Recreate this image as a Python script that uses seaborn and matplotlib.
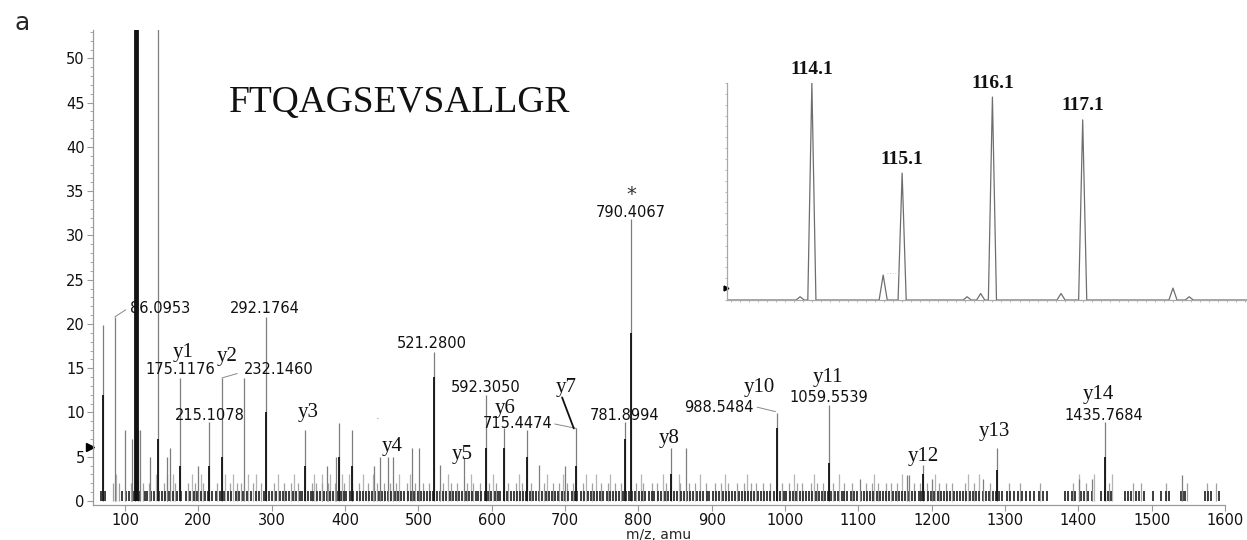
import numpy as np
import pandas as pd
import matplotlib
matplotlib.use("Agg")
import matplotlib.pyplot as plt
from matplotlib.ticker import MultipleLocator
import seaborn as sns

# ---- main MS/MS spectrum (m/z, relative intensity) ----
peak_mz = [70.07, 86.0953, 100.1, 110.1, 113.1, 118.1, 120.1, 134.1, 145.1, 157.1, 161.1,
           175.1176, 200.1, 215.1078, 232.1460, 262.1, 292.1764, 345.2, 375.2, 388.2,
           392.2, 410.2, 440.2, 448.2, 458.3, 465.2, 491.2, 501.2, 521.2800, 529.3,
           562.3, 592.3050, 616.4, 648.3, 664.3, 700.3, 715.4474, 781.8994, 790.4067,
           844.5, 864.4, 988.5484, 1059.5539, 1102.5, 1166.6, 1169.6, 1187.6, 1200.6,
           1269.6, 1288.7, 1400.7, 1418.7, 1435.7684, 1541.8]
peak_h = [19.9, 20.8, 8.0, 7.0, 8.0, 8.0, 8.0, 5.0, 60.0, 5.0, 6.0,
          13.9, 4.0, 8.9, 13.9, 13.9, 20.8, 8.0, 4.0, 5.0,
          8.8, 8.0, 4.0, 5.0, 5.0, 5.0, 6.0, 6.0, 16.8, 4.1,
          4.9, 12.0, 8.2, 8.0, 4.1, 4.0, 8.2, 8.9, 31.8,
          6.0, 6.0, 9.9, 10.9, 2.5, 2.9, 2.9, 4.1, 2.5,
          2.5, 6.0, 2.5, 2.5, 8.9, 2.9]

# darker lower parts of the peaks (reporter ions 114-117 run off scale)
core_mz = [70.07, 114.1, 115.1, 116.1, 117.1, 145.1, 175.1, 215.1, 232.1, 292.2, 345.2,
           392.2, 410.2, 521.28, 592.3, 616.4, 648.3, 715.4, 781.9, 790.4, 844.5,
           988.5, 1059.6, 1187.6, 1288.7, 1435.8]
core_h = [12.0, 100.0, 70.0, 95.0, 85.0, 7.0, 4.0, 4.0, 5.0, 10.0, 4.0,
          5.0, 4.0, 14.0, 6.0, 6.0, 5.0, 4.0, 7.0, 19.0, 3.0,
          8.2, 4.3, 3.0, 3.5, 5.0]

# baseline noise, grouped by the level it reaches
noise_lvl1 = [67, 73, 96, 102, 106, 112, 117, 121, 127, 130, 136, 140, 146, 151, 155, 160,
              166, 171, 177, 183, 188, 194, 198, 204, 209, 213, 219, 224, 229, 235, 240,
              245, 251, 256, 261, 267, 272, 278, 283, 289, 296, 301, 306, 311, 315, 320,
              324, 329, 333, 338, 342, 349, 353, 357, 362, 366, 371, 375, 380, 384, 389,
              394, 398, 402, 407, 411, 416, 420, 424, 428, 433, 437, 441, 446, 450, 455,
              459, 463, 468, 472, 477, 481, 486, 490, 494, 499, 503, 508, 512, 516, 520,
              525, 530, 534, 538, 543, 547, 551, 556, 560, 565, 569, 573, 578, 582, 586,
              591, 595, 599, 604, 608, 612, 617, 621, 626, 630, 634, 639, 643, 647, 652,
              656, 661, 665, 669, 674, 678, 682, 687, 691, 696, 700, 704, 709, 713, 717,
              722, 726, 731, 735, 739, 744, 748, 752, 757, 761, 766, 770, 774, 779, 783,
              787, 792, 796, 801, 805, 809, 814, 818, 822, 827, 831, 836, 840, 845, 849,
              853, 858, 862, 867, 871, 875, 880, 884, 888, 893, 897, 902, 906, 910, 915,
              919, 923, 928, 932, 937, 941, 945, 950, 954, 958, 963, 967, 972, 976, 980,
              985, 989, 993, 998, 1002, 1007, 1011, 1015, 1020, 1024, 1028, 1033, 1037,
              1042, 1046, 1050, 1055, 1059, 1063, 1068, 1072, 1077, 1081, 1085, 1090,
              1094, 1098, 1103, 1107, 1112, 1116, 1120, 1125, 1129, 1133, 1138, 1142,
              1147, 1151, 1155, 1160, 1164, 1168, 1173, 1177, 1182, 1186, 1190, 1195,
              1199, 1203, 1208, 1212, 1217, 1221, 1225, 1230, 1234, 1238, 1243, 1247,
              1252, 1256, 1260, 1265, 1270, 1274, 1278, 1283, 1287, 1292, 1296, 1302,
              1307, 1312, 1318, 1323, 1329, 1334, 1340, 1346, 1352, 1357, 1382, 1386,
              1391, 1395, 1403, 1408, 1413, 1419, 1431, 1436, 1440, 1445, 1463, 1467,
              1472, 1478, 1483, 1489, 1502, 1513, 1519, 1524, 1540, 1542, 1545, 1572,
              1577, 1581, 1592]
noise_lvl2 = [83, 92, 108, 124, 133, 153, 168, 186, 196, 207, 226, 243, 253, 258, 275, 285,
              303, 317, 326, 336, 355, 361, 369, 377, 386, 398, 409, 419, 431, 444, 453,
              462, 470, 484, 496, 506, 514, 533, 545, 553, 567, 575, 584, 596, 606, 622,
              633, 641, 654, 671, 683, 692, 703, 711, 724, 737, 749, 758, 768, 776, 797,
              807, 818, 826, 838, 857, 869, 877, 892, 904, 913, 922, 935, 944, 953, 961,
              970, 979, 996, 1005, 1016, 1023, 1035, 1044, 1052, 1066, 1081, 1091, 1110,
              1118, 1127, 1137, 1145, 1153, 1176, 1184, 1194, 1210, 1219, 1228, 1246,
              1257, 1280, 1305, 1321, 1348, 1393, 1410, 1442, 1475, 1486, 1519, 1548,
              1575, 1588]
noise_lvl3 = [88, 113, 142, 157, 166, 191, 203, 236, 247, 268, 279, 308, 331, 358, 368, 380,
              396, 405, 425, 438, 473, 488, 541, 572, 602, 637, 676, 697, 728, 742, 762,
              803, 834, 855, 884, 918, 948, 1012, 1040, 1073, 1121, 1160, 1205, 1250,
              1264, 1401, 1421, 1446]

# ---- inset: iTRAQ reporter region ----
inset_mz = [113.97, 114.10, 114.89, 115.10, 115.82, 115.97, 116.10, 116.86, 117.10, 118.10, 118.28]
inset_h = [1.5, 100.0, 11.5, 58.5, 1.5, 3.0, 93.5, 3.0, 83.0, 5.5, 1.5]
inset_labels = ["114.1", "115.1", "116.1", "117.1"]

peptide = "FTQAGSEVSALLGR"

# annotations: text, x (m/z), y (intensity), font kind, alignment
annotations = [
    ("86.0953", 107, 21.8, "num", "left"),
    ("292.1764", 291, 21.8, "num", "center"),
    ("y1", 179, 16.8, "ion", "center"),
    ("175.1176", 175, 14.8, "num", "center"),
    ("y2", 239, 16.3, "ion", "center"),
    ("232.1460", 310, 14.8, "num", "center"),
    ("215.1078", 216, 9.7, "num", "center"),
    ("y3", 350, 10.0, "ion", "center"),
    ("y4", 465, 6.2, "ion", "center"),
    ("521.2800", 519, 17.8, "num", "center"),
    ("y5", 560, 5.2, "ion", "center"),
    ("592.3050", 592, 12.8, "num", "center"),
    ("y6", 618, 10.5, "ion", "center"),
    ("715.4474", 636, 8.8, "num", "center"),
    ("y7", 701, 12.8, "ion", "center"),
    ("781.8994", 781, 9.7, "num", "center"),
    ("790.4067", 789, 32.6, "num", "center"),
    ("y8", 842, 7.1, "ion", "center"),
    ("y10", 965, 12.8, "ion", "center"),
    ("988.5484", 910, 10.6, "num", "center"),
    ("y11", 1059, 14.0, "ion", "center"),
    ("1059.5539", 1060, 11.7, "num", "center"),
    ("y12", 1188, 5.0, "ion", "center"),
    ("y13", 1286, 7.8, "ion", "center"),
    ("y14", 1427, 12.0, "ion", "center"),
    ("1435.7684", 1435, 9.7, "num", "center"),
]
# leader lines: (x0, y0, x1, y1)
leaders = [(86.1, 20.8, 101, 21.6), (232.1, 13.9, 253, 14.4), (686, 8.7, 715.4, 8.2),
           (962, 10.6, 987, 10.1)]

sns.set_theme(style="ticks")
plt.rcParams["font.family"] = ["DejaVu Sans"]
AX_GREY = "#9a9a9a"

fig = plt.figure(figsize=(12.47, 5.40), dpi=100)
ax = fig.add_axes([0.0746, 0.0648, 0.9078, 0.8796])

ax.vlines(noise_lvl3, 0, 3.0, color="#b5b5b5", lw=0.9)
ax.vlines(noise_lvl2, 0, 2.0, color="#a0a0a0", lw=0.9)
ax.vlines(noise_lvl1, 0, 1.1, color="#2e2e2e", lw=1.3)
ax.vlines(peak_mz, 0, peak_h, color="#7d7d7d", lw=0.9)
ax.vlines(core_mz, 0, core_h, color="#111111", lw=1.3)

for x0, y0, x1, y1 in leaders:
    ax.plot([x0, x1], [y0, y1], color="#888888", lw=0.7)
ax.plot([696, 712], [11.7, 8.2], color="#111111", lw=1.3)

for txt, x, y, kind, ha in annotations:
    if kind == "num":
        ax.text(x, y, txt, ha=ha, va="center", fontsize=10.5, color="#111111")
    else:
        ax.text(x, y, txt, ha=ha, va="center", fontsize=15, family="Liberation Serif",
                color="#111111")
ax.text(790, 34.6, "*", ha="center", va="center", fontsize=14, color="#333333")
ax.text(444, 9.6, ".", ha="center", va="center", fontsize=8, color="#888888")
ax.text(475, 45.0, peptide, ha="center", va="center", fontsize=27,
        family="Liberation Serif", color="#111111")

ax.plot([52.3], [6.1], marker=">", ms=6, color="black", clip_on=False)

ax.set_xlim(56.4, 1600)
ax.set_ylim(-0.45, 53.2)
ax.set_xticks(np.arange(100, 1601, 100))
ax.set_yticks(np.arange(0, 51, 5))
ax.yaxis.set_minor_locator(MultipleLocator(1))
ax.tick_params(axis="both", which="major", length=4, width=0.8, color=AX_GREY,
               labelsize=10.5, labelcolor="#111111", pad=2)
ax.tick_params(axis="y", which="minor", length=2, width=0.6, color=AX_GREY)
for side in ["top", "right"]:
    ax.spines[side].set_visible(False)
for side in ["left", "bottom"]:
    ax.spines[side].set_color(AX_GREY)
    ax.spines[side].set_linewidth(0.9)
ax.set_xlabel("m/z, amu", fontsize=10, labelpad=0)
ax.set_ylabel("")

fig.text(0.0176, 0.958, "a", fontsize=18, ha="center", va="center")

# ---- inset ----
ax_in = fig.add_axes([0.583, 0.4444, 0.417, 0.4019])
ax_in.set_facecolor("none")
HW = 0.045
prof_x, prof_y = [113.16], [0.0]
for c, h in sorted(zip(inset_mz, inset_h)):
    prof_x += [c - HW, c, c + HW]
    prof_y += [0.0, h, 0.0]
prof_x.append(118.92)
prof_y.append(0.0)
prof = pd.DataFrame({"mz": prof_x, "intensity": prof_y})
sns.lineplot(data=prof, x="mz", y="intensity", sort=False, estimator=None,
             color="#6e6e6e", lw=0.9, ax=ax_in)
ax_in.plot([114.93, 115.06], [12.4, 12.4], color="#c8c8c8", lw=0.7, ls=":")

main_peaks = [(m, h) for m, h in zip(inset_mz, inset_h) if h > 50]
for (m, h), lab in zip(main_peaks, inset_labels):
    ax_in.text(m, h + 2.5, lab, ha="center", va="bottom", fontsize=14, fontweight="bold",
               family="Liberation Serif", color="#111111")
ax_in.plot([113.15], [5.5], marker=">", ms=3.5, color="black", clip_on=False)

ax_in.set_xlim(113.16, 118.92)
ax_in.set_ylim(0, 100)
ax_in.set_xticks([])
ax_in.set_yticks([])
ax_in.xaxis.set_minor_locator(MultipleLocator(0.1))
ax_in.yaxis.set_minor_locator(MultipleLocator(5))
ax_in.tick_params(which="minor", length=1.5, width=0.6, color="#b0b0b0",
                  labelbottom=False, labelleft=False)
ax_in.set_xlabel("")
ax_in.set_ylabel("")
for side in ["top", "right"]:
    ax_in.spines[side].set_visible(False)
for side in ["left", "bottom"]:
    ax_in.spines[side].set_color("#a8a8a8")
    ax_in.spines[side].set_linewidth(0.9)

fig.savefig("out.png", dpi=100)
